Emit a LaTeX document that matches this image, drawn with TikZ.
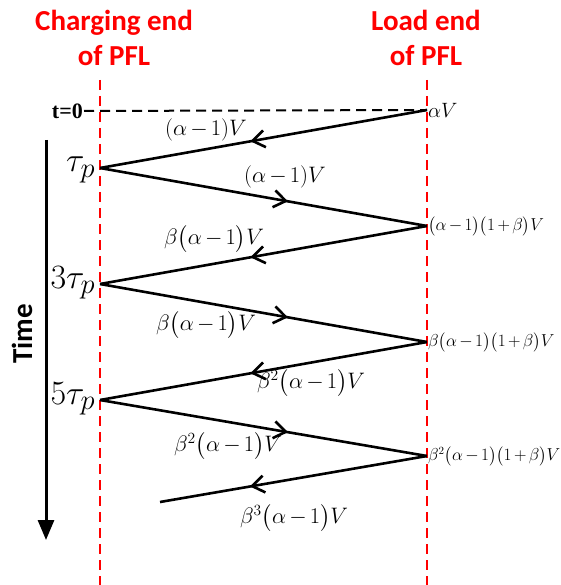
\documentclass[tikz,border=0pt]{standalone}
\usepackage{amsmath,amssymb}
\usepackage{fontspec}
\newfontfamily\headfont{Carlito}
\newfontfamily\timesfont{Liberation Serif}
\usetikzlibrary{arrows.meta,decorations.markings}
\medmuskip=2.5mu

\begin{document}
\begin{tikzpicture}[x=1pt,y=-1pt,
head/.style={text=red,font=\headfont\bfseries\fontsize{29}{35}\selectfont,align=center},
pfl/.style={red,line width=2pt,dash pattern=on 10pt off 6pt},
zero/.style={line width=2pt,dash pattern=on 10pt off 6pt},
wave/.style={line width=2.6pt,postaction={decorate},
  decoration={markings,mark=at position #1 with {\arrow{Straight Barb[length=12pt,width=17pt]}}}},
lbl/.style={font=\fontsize{20.74}{24}\selectfont,inner sep=0pt,scale=1.08},
vlbl/.style={font=\fontsize{16}{18}\selectfont,anchor=west,inner sep=1pt},
tlbl/.style={font=\fontsize{24.88}{28}\selectfont,anchor=base east,inner sep=1pt,scale=1.37}
]
\useasboundingbox (0,0) rectangle (560,585);

% the two ends of the line
\node[head] (chg) at (114,38) {Charging end\\of PFL};
\node[head] (load) at (426,38) {Load end\\of PFL};
\coordinate (ctop) at (100,80);
\coordinate (cbot) at (100,585);
\coordinate (ltop) at (427,80);
\coordinate (lbot) at (427,585);
\draw[pfl] (ctop)--(cbot);
\draw[pfl] (ltop)--(lbot);

% reflection points
\coordinate (p0) at (427,110);
\coordinate (p1) at (100,168);
\coordinate (p2) at (427,226);
\coordinate (p3) at (100,284);
\coordinate (p4) at (427,342);
\coordinate (p5) at (100,400);
\coordinate (p6) at (427,456);
\coordinate (p7) at (160,502);

\node[font=\timesfont\bfseries\fontsize{22}{24}\selectfont,anchor=east,inner sep=1pt] (t0) at (84,111) {t=0};
\draw[zero] (t0.east)--(p0);

\draw[wave=0.54] (p0)--(p1);
\draw[wave=0.575] (p1)--(p2);
\draw[wave=0.54] (p2)--(p3);
\draw[wave=0.575] (p3)--(p4);
\draw[wave=0.54] (p4)--(p5);
\draw[wave=0.575] (p5)--(p6);
\draw[wave=0.663] (p6)--(p7);

% travelling waves
\node[lbl] (w1) at (206,130) {$(\alpha-1)V$};
\node[lbl] (w2) at (285,177) {$(\alpha-1)V$};
\node[lbl] (w3) at (214,239) {$\beta\bigl(\alpha-1\bigr)V$};
\node[lbl] (w4) at (206,325) {$\beta\bigl(\alpha-1\bigr)V$};
\node[lbl] (w5) at (311,383) {$\beta^2\bigl(\alpha-1\bigr)V$};
\node[lbl] (w6) at (228,446) {$\beta^2\bigl(\alpha-1\bigr)V$};
\node[lbl] (w7) at (294,518) {$\beta^3\bigl(\alpha-1\bigr)V$};

% voltages at the load end
\node[vlbl,font=\fontsize{20}{22}\selectfont] (v0) at (p0) {$\alpha V$};
\node[vlbl] (v2) at (p2) {$\bigl(\alpha-1\bigr)\bigl(1+\beta\bigr)V$};
\node[vlbl] (v4) at (p4) {$\beta\bigl(\alpha-1\bigr)\bigl(1+\beta\bigr)V$};
\node[vlbl] (v6) at (p6) {$\beta^2\bigl(\alpha-1\bigr)\bigl(1+\beta\bigr)V$};

% times
\node[tlbl] (t1) at (97,172) {$\tau_p$};
\node[tlbl] (t3) at (97,288) {$3\tau_p$};
\node[tlbl] (t5) at (97,404) {$5\tau_p$};

\coordinate (ttop) at (46,140);
\coordinate (tbot) at (46,540);
\draw[line width=3pt,-{Triangle[length=20pt,width=16pt]}] (ttop)--(tbot);
\node[font=\headfont\bfseries\fontsize{29}{32}\selectfont,rotate=90] (time) at (22,334) {Time};
\end{tikzpicture}
\end{document}
